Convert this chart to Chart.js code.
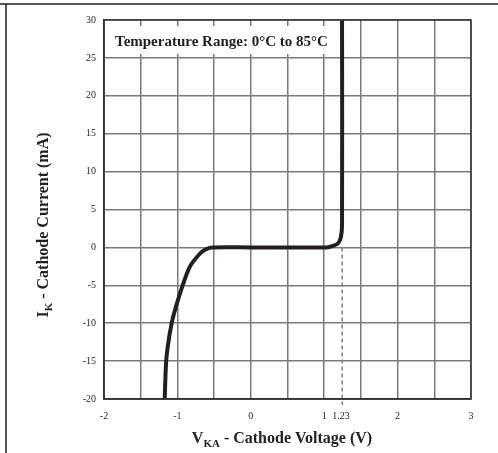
<!DOCTYPE html>
<html>
<head>
<meta charset="utf-8">
<script src="https://cdn.jsdelivr.net/npm/chart.js@4"></script>
<style>
  html, body { margin: 0; padding: 0; background: #fff; }
  #wrap { width: 498px; height: 453px; }
</style>
</head>
<body>
<div id="wrap"><canvas id="grafico-ik"></canvas></div>
<script>
// Curva I_K x V_KA
const tensao = [-1.173, -1.155, -1.132, -1.078, -1.019, -0.928, -0.828, -0.692, -0.624, -0.53, 0, 1.03, 1.12, 1.19, 1.228, 1.243, 1.243];
const corrente = [-20, -15.3, -13.1, -10, -7.8, -5, -2.5, -0.8, -0.3, 0, 0, 0, 0.2, 0.55, 1.4, 3, 30];

// Linha tracejada em 1.23 V
const refTensao = [1.245, 1.245];
const refCorrente = [0, -20.8];

const xTicks = [-2, -1, 0, 1, 1.23, 2, 3];
const textoFaixa = 'Temperature Range: 0°C to 85°C';

const serif = '"Liberation Serif", "Times New Roman", serif';

// Textos: faixa de temperatura, titulos dos eixos e moldura
const textos = {
    id: 'textos',
    beforeDatasetsDraw(chart) {
        const ctx = chart.ctx;
        ctx.save();
        ctx.font = 'bold 15px ' + serif;
        const w = ctx.measureText(textoFaixa).width;
        ctx.fillStyle = '#fff';
        ctx.fillRect(110, 26, w + 12, 28);
        ctx.fillStyle = '#231f20';
        ctx.textBaseline = 'middle';
        ctx.fillText(textoFaixa, 115, 42);
        ctx.restore();
    },
    afterDraw(chart) {
        const ctx = chart.ctx;
        const a = chart.chartArea;
        ctx.save();
        ctx.strokeStyle = '#333';
        ctx.lineWidth = 1.5;
        ctx.strokeRect(a.left, a.top, a.right - a.left, a.bottom - a.top);

        // moldura externa
        ctx.strokeStyle = '#231f20';
        ctx.beginPath();
        ctx.moveTo(0, 4); ctx.lineTo(498, 4);
        ctx.moveTo(6, 4); ctx.lineTo(6, 453);
        ctx.stroke();

        ctx.fillStyle = '#231f20';
        ctx.textBaseline = 'alphabetic';
        const big = 'bold 16px ' + serif;
        const small = 'bold 11px ' + serif;
        function titulo(letra, sub, resto, cx, y) {
            ctx.font = big;
            const w1 = ctx.measureText(letra).width;
            const w3 = ctx.measureText(resto).width;
            ctx.font = small;
            const w2 = ctx.measureText(sub).width;
            let x = cx - (w1 + w2 + w3) / 2;
            ctx.font = big; ctx.fillText(letra, x, y); x += w1;
            ctx.font = small; ctx.fillText(sub, x, y + 4); x += w2;
            ctx.font = big; ctx.fillText(resto, x, y);
        }
        titulo('V', 'KA', ' - Cathode Voltage (V)', 282, 443);

        ctx.translate(48, 225);
        ctx.rotate(-Math.PI / 2);
        titulo('I', 'K', ' - Cathode Current (mA)', 0, 0);
        ctx.restore();
    }
};

const ctxIk = document.getElementById('grafico-ik').getContext('2d');
const ikChart = new Chart(ctxIk, {
    type: 'scatter',
    data: {
        datasets: [{
            data: tensao.map((v, i) => ({ x: v, y: corrente[i] })),
            showLine: true,
            borderColor: '#231f20',
            borderWidth: 4,
            pointRadius: 0,
            tension: 0.3,
            borderCapStyle: 'butt'
        }, {
            data: refTensao.map((v, i) => ({ x: v, y: refCorrente[i] })),
            showLine: true,
            borderColor: '#808080',
            borderWidth: 1.5,
            borderDash: [4, 3],
            pointRadius: 0,
            clip: false
        }]
    },
    options: {
        responsive: true,
        maintainAspectRatio: false,
        animation: false,
        layout: { padding: { left: 0, right: 27, top: 20, bottom: 0 } },
        plugins: {
            legend: { display: false },
            tooltip: { enabled: false }
        },
        scales: {
            x: {
                type: 'linear',
                min: -2,
                max: 3,
                afterFit: (s) => { s.height = 54; },
                afterBuildTicks: (s) => {
                    const t = [];
                    for (let v = -2; v <= 3.001; v += 0.5) t.push({ value: Math.round(v * 10) / 10 });
                    t.push({ value: 1.23 });
                    t.sort((p, q) => p.value - q.value);
                    s.ticks = t;
                },
                grid: {
                    drawTicks: false,
                    lineWidth: 1.5,
                    color: (c) => (c.tick && c.tick.value === 1.23) ? 'rgba(0,0,0,0)' : '#7a7a7a'
                },
                border: { color: '#333', width: 1.5 },
                ticks: {
                    autoSkip: false,
                    maxRotation: 0,
                    padding: 11,
                    color: '#231f20',
                    font: { family: serif, size: 10 },
                    callback: (v) => xTicks.includes(v) ? String(v) : ''
                }
            },
            y: {
                min: -20,
                max: 30,
                afterFit: (s) => { s.width = 104; },
                grid: {
                    drawTicks: false,
                    lineWidth: 1.5,
                    color: '#7a7a7a'
                },
                border: { color: '#333', width: 1.5 },
                ticks: {
                    stepSize: 5,
                    padding: 8,
                    color: '#231f20',
                    font: { family: serif, size: 10 }
                }
            }
        }
    },
    plugins: [textos]
});
</script>
</body>
</html>
